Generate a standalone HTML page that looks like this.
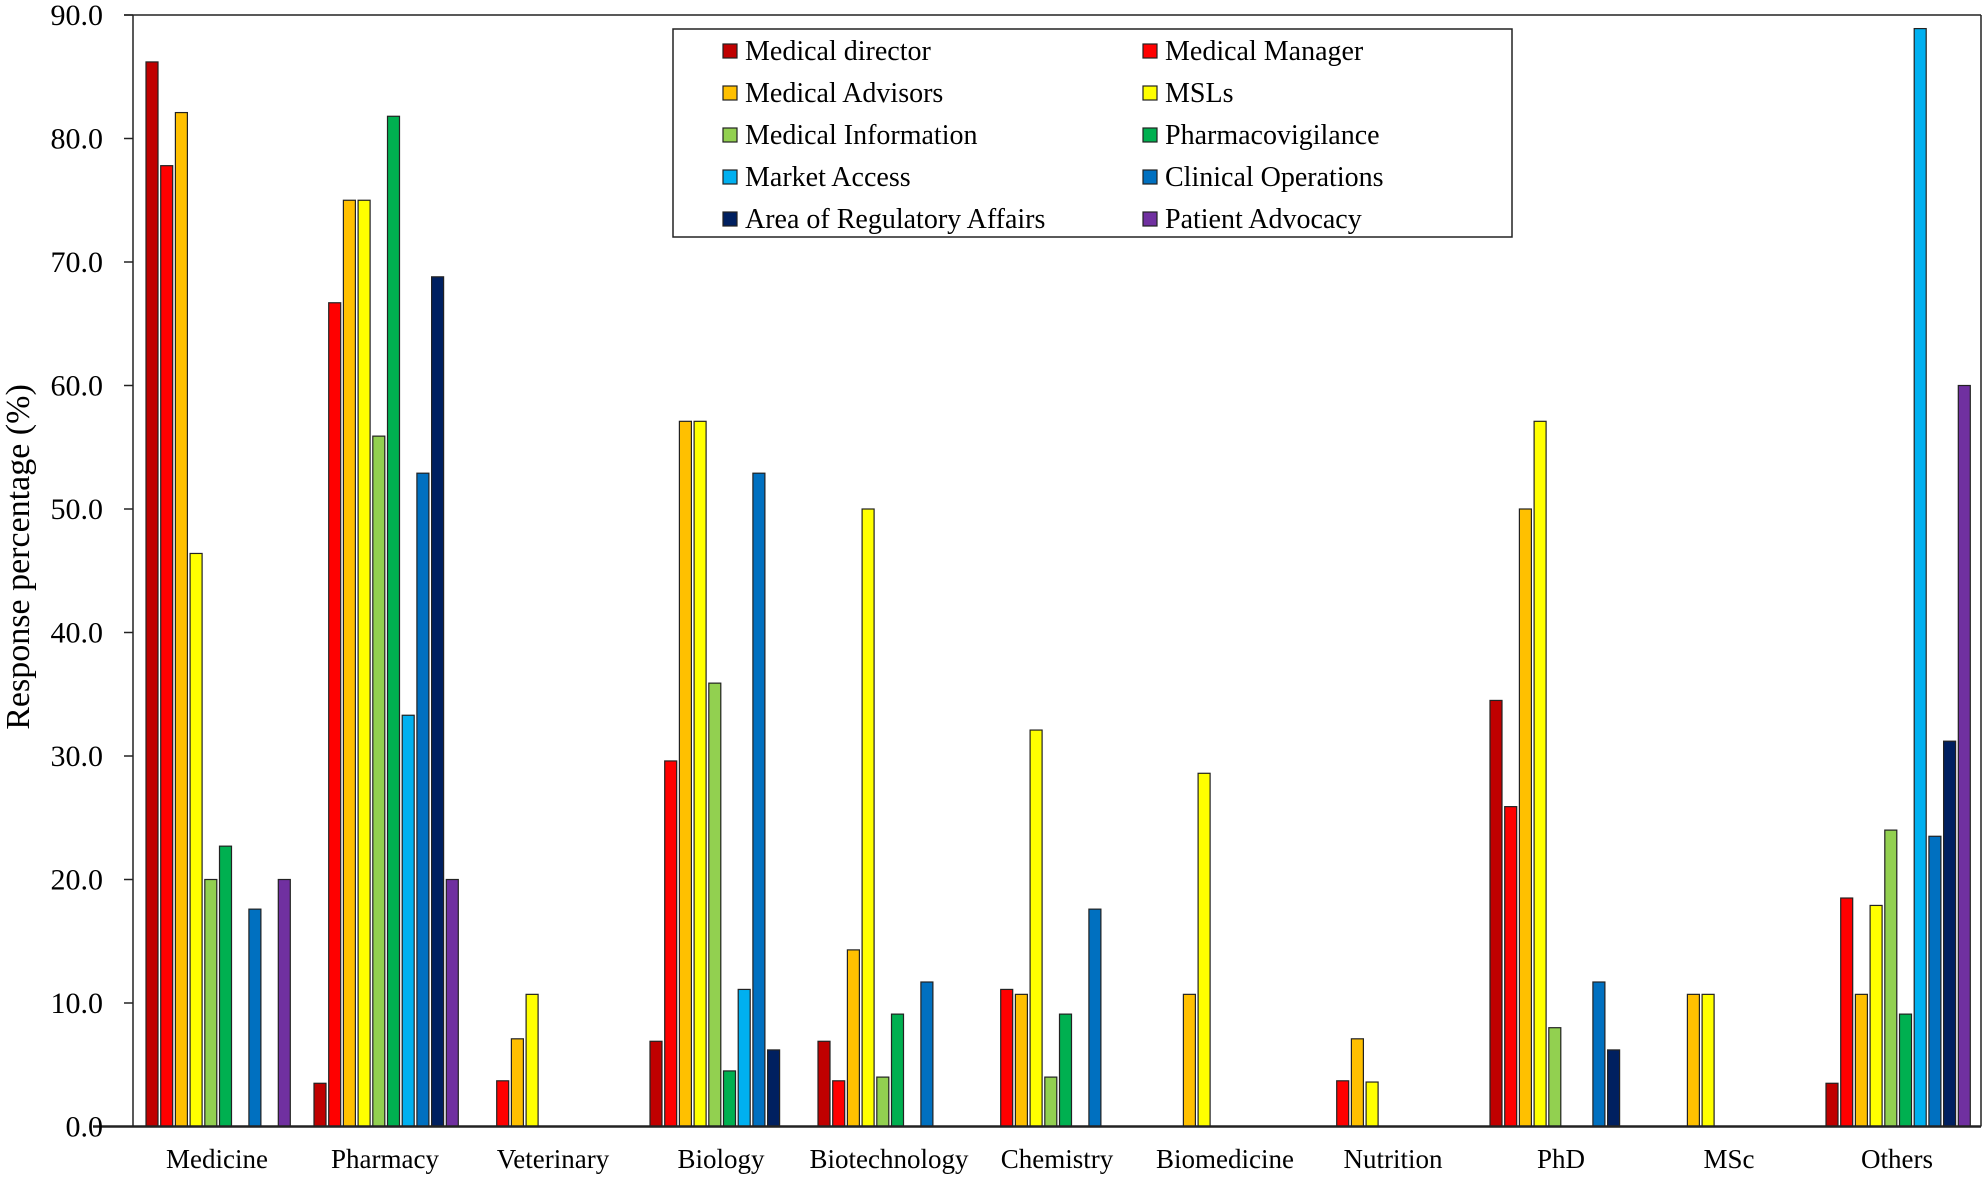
<!DOCTYPE html>
<html><head><meta charset="utf-8"><style>
html,body{margin:0;padding:0;background:#fff;}
svg text{font-family:"Liberation Serif",serif;fill:#000;}
</style></head><body>
<svg id="chart" width="1984" height="1178" xmlns="http://www.w3.org/2000/svg">
<g id="bars"></g>
<g id="axes"></g>
<g id="legend"></g>
</svg>
<script>
const categories = ["Medicine","Pharmacy","Veterinary","Biology","Biotechnology","Chemistry","Biomedicine","Nutrition","PhD","MSc","Others"];
const seriesNames = ["Medical director","Medical Manager","Medical Advisors","MSLs","Medical Information","Pharmacovigilance","Market Access","Clinical Operations","Area of Regulatory Affairs","Patient Advocacy"];
const seriesColors = ["#c00000","#ff0000","#ffc000","#ffff00","#92d050","#00b050","#00b0f0","#0070c0","#002060","#7030a0"];
const medicalDirector = [86.2,3.5,0,6.9,6.9,0,0,0,34.5,0,3.5];
const medicalManager = [77.8,66.7,3.7,29.6,3.7,11.1,0,3.7,25.9,0,18.5];
const medicalAdvisors = [82.1,75.0,7.1,57.1,14.3,10.7,10.7,7.1,50.0,10.7,10.7];
const msls = [46.4,75.0,10.7,57.1,50.0,32.1,28.6,3.6,57.1,10.7,17.9];
const medicalInformation = [20.0,55.9,0,35.9,4.0,4.0,0,0,8.0,0,24.0];
const pharmacovigilance = [22.7,81.8,0,4.5,9.1,9.1,0,0,0,0,9.1];
const marketAccess = [0,33.3,0,11.1,0,0,0,0,0,0,88.9];
const clinicalOperations = [17.6,52.9,0,52.9,11.7,17.6,0,0,11.7,0,23.5];
const regulatoryAffairs = [0,68.8,0,6.2,0,0,0,0,6.2,0,31.2];
const patientAdvocacy = [20.0,20.0,0,0,0,0,0,0,0,0,60.0];
const yTicks = [0,10,20,30,40,50,60,70,80,90];
const yTickLabels = ["0.0","10.0","20.0","30.0","40.0","50.0","60.0","70.0","80.0","90.0"];

const series = [medicalDirector,medicalManager,medicalAdvisors,msls,medicalInformation,pharmacovigilance,marketAccess,clinicalOperations,regulatoryAffairs,patientAdvocacy];
const NS="http://www.w3.org/2000/svg";
const X0=133,X1=1981,Y0=1126.5,YT=15,YMAX=90;
const catW=(X1-X0)/categories.length;
const barStride=14.7,barW=12,groupOff=13;
function yScale(v){return Y0-(v/YMAX)*(Y0-YT);}
function xCat(i){return X0+i*catW;}
function mk(tag,attrs,parent){const e=document.createElementNS(NS,tag);for(const k in attrs)e.setAttribute(k,attrs[k]);parent.appendChild(e);return e;}

const gb=document.getElementById('bars');
series.forEach((vals,s)=>{
  vals.forEach((v,i)=>{
    if(v<=0)return;
    const x=xCat(i)+groupOff+s*barStride;
    const y=yScale(v);
    const r=mk('rect',{x:x,y:y,width:barW,height:Y0-y,fill:seriesColors[s],stroke:'#222','stroke-width':1.2},gb);
    
    
  });
});

const ga=document.getElementById('axes');
let l;
l=mk('line',{x1:124,y1:YT,x2:X1,y2:YT,stroke:'#222','stroke-width':1.5},ga);

l=mk('line',{x1:X1,y1:YT,x2:X1,y2:Y0,stroke:'#222','stroke-width':1.5},ga);

l=mk('line',{x1:X0,y1:YT,x2:X0,y2:Y0,stroke:'#222','stroke-width':1.5},ga);

l=mk('line',{x1:93,y1:Y0,x2:X1,y2:Y0,stroke:'#222','stroke-width':2.5},ga);

yTicks.forEach((t,k)=>{
  const y=yScale(t);
  const tk=mk('line',{x1:124,y1:y,x2:X0,y2:y,stroke:'#222','stroke-width':1.5},ga);
  
  const tx=mk('text',{x:103,y:y+10,'text-anchor':'end','font-size':30},ga);
  tx.textContent=yTickLabels[k];
  
});
categories.forEach((c,i)=>{
  const tx=mk('text',{x:xCat(i)+catW/2,y:1168,'text-anchor':'middle','font-size':27},ga);
  tx.textContent=c;
  
});
const yt=mk('text',{x:0,y:0,'text-anchor':'middle','font-size':34,transform:'translate(29,557) rotate(-90)'},ga);
yt.textContent='Response percentage (%)';


const gl=document.getElementById('legend');
const lb=mk('rect',{x:673,y:29,width:839,height:208,fill:'#fff',stroke:'#222','stroke-width':1.5},gl);

seriesNames.forEach((n,s)=>{
  const col=s%2,row=Math.floor(s/2);
  const sx=col?1143:723, cy=51+row*42;
  const g=mk('g',{},gl);
  
  mk('rect',{x:sx,y:cy-7,width:14,height:14,fill:seriesColors[s],stroke:'#222','stroke-width':1.2},g);
  const t=mk('text',{x:sx+22,y:cy+9,'font-size':28},g);
  t.textContent=n;
});
</script>
</body></html>
